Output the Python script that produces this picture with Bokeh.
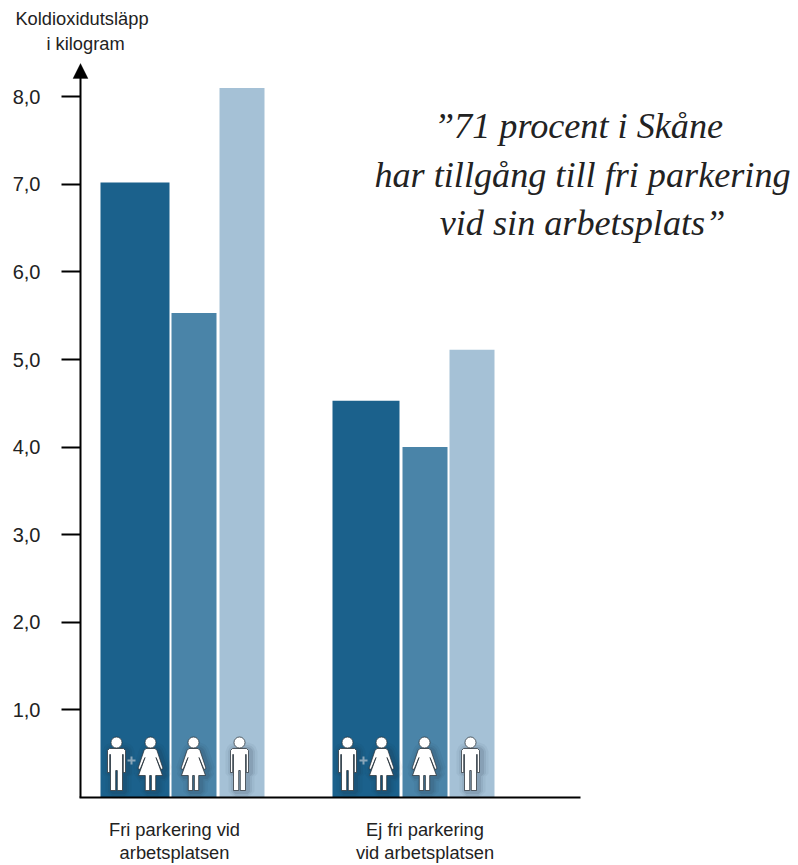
from bokeh.embed import file_html
from bokeh.models import FixedTicker, Label, PolyAnnotation, Range1d
from bokeh.plotting import figure
from bokeh.resources import INLINE

# Carbon dioxide emissions per commute, kg, by parking access at the workplace
groups = ["Fri parkering vid\narbetsplatsen", "Ej fri parkering\nvid arbetsplatsen"]
all_people = [7.02, 4.53]
women = [5.53, 4.0]
men = [8.1, 5.11]
y_ticks = [1, 2, 3, 4, 5, 6, 7, 8]
y_tick_labels = ["1,0", "2,0", "3,0", "4,0", "5,0", "6,0", "7,0", "8,0"]
y_title = "Koldioxidutsläpp\ni kilogram"
quote = ["”71 procent i Skåne", "har tillgång till fri parkering", "vid sin arbetsplats”"]

W, H = 798, 865
AXIS_X, BASE = 80, 797
UNIT = 87.6  # pixels per kilogram
SANS = "Liberation Sans"
SERIF = "Liberation Serif"


def py(pixel_y):
    return (BASE - pixel_y) / UNIT


# The plot area fills the whole canvas; both axes sit at fixed locations inside it
p = figure(
    width=W, height=H, output_backend="svg", toolbar_location=None,
    x_range=Range1d(0, W), y_range=Range1d(py(H), py(0)),
    min_border=0,
)
p.outline_line_color = None
p.grid.visible = False
p.background_fill_color = "white"
p.border_fill_color = "white"

# Bars: three per group, with the pixel layout of each cluster
bar_layout = [
    (all_people, "#1b618c", [(100, 169), (332, 399)]),
    (women, "#4a84a8", [(171, 216), (402, 447)]),
    (men, "#a5c1d6", [(219, 264), (449, 494)]),
]
for values, colour, spans in bar_layout:
    p.vbar(
        x=[(a + b) / 2 for a, b in spans],
        width=[b - a for a, b in spans],
        bottom=0, top=values, fill_color=colour, line_color=None,
    )

# Pictograms of people standing in the foot of each bar
MAN = [(-7, 11), (7, 11), (9, 13), (9, 35), (6.8, 35), (6.8, 17), (6, 17), (6, 53),
       (0.8, 53), (0.8, 33), (-0.8, 33), (-0.8, 53), (-6, 53), (-6, 17), (-6.8, 17),
       (-6.8, 35), (-9, 35), (-9, 13)]
WOMAN = [(-4.5, 11), (4.5, 11), (6.5, 13), (12.5, 31), (10.5, 32), (5.5, 20), (12, 38), (5.2, 38),
         (5.2, 53), (0.9, 53), (0.9, 38), (-0.9, 38), (-0.9, 53), (-5.2, 53), (-5.2, 38),
         (-12, 38), (-5.5, 20), (-10.5, 32), (-12.5, 31), (-6.5, 13)]
ICON_TOP = 737


def person(cx, shape):
    xs = [cx + a for a, _ in shape]
    ys = [py(ICON_TOP + b) for _, b in shape]
    hx, hy = cx, py(ICON_TOP + 5)
    # stacked translucent strokes give the soft drop shadow
    for lw, alpha in ((14, 0.05), (9, 0.07), (5, 0.10)):
        p.patch([x + 2 for x in xs], [y - 1 / UNIT for y in ys], fill_alpha=0,
                line_color="#1c2b36", line_alpha=alpha, line_width=lw)
    p.patch(xs, ys, fill_color="white", line_color="#2a3238", line_alpha=0.75, line_width=1)
    p.scatter([hx], [hy], size=11, marker="circle", fill_color="white",
              line_color="#2a3238", line_alpha=0.75, line_width=1)


for cx in (116, 239, 347, 470):
    person(cx, MAN)
for cx in (150, 193, 381, 424):
    person(cx, WOMAN)
p.scatter([131, 363], [py(760), py(760)], size=8, marker="cross",
          line_color="#8aa6b9", line_width=2)

# Value axis, running a little above 8,0 up to its arrow head
yaxis = p.yaxis[0]
yaxis.fixed_location = AXIS_X
yaxis.ticker = FixedTicker(ticks=y_ticks)
yaxis.major_label_overrides = {t: s for t, s in zip(y_ticks, y_tick_labels)}
yaxis.bounds = (0, py(72))
yaxis.axis_line_color = "black"
yaxis.axis_line_width = 2
yaxis.major_tick_line_color = "black"
yaxis.major_tick_line_width = 2
yaxis.major_tick_out = 19
yaxis.major_tick_in = 0
yaxis.minor_tick_line_color = None
yaxis.major_label_standoff = 21
yaxis.major_label_text_font = SANS
yaxis.major_label_text_font_size = "20px"
yaxis.major_label_text_color = "#222222"

# Baseline; the group names are placed below it as labels
xaxis = p.xaxis[0]
xaxis.fixed_location = 0
xaxis.ticker = FixedTicker(ticks=[])
xaxis.bounds = (AXIS_X - 1, 580)
xaxis.axis_line_color = "black"
xaxis.axis_line_width = 2
xaxis.major_tick_line_color = None
xaxis.minor_tick_line_color = None

for name, cx in zip(groups, (174, 424.5)):
    for line, y in zip(name.split("\n"), (829, 852)):
        p.add_layout(Label(
            x=cx, y=py(y), text=line, text_align="center", text_baseline="alphabetic",
            text_font=SANS, text_font_size="18.3px", text_color="#222222",
        ))

# Arrow head topping the value axis
p.add_layout(PolyAnnotation(
    xs=[72.5, AXIS_X, 87.5], ys=[py(78), py(63), py(78)],
    fill_color="black", fill_alpha=1, line_color="black",
))

# Axis caption, centred over the axis
for text, cx, y in zip(y_title.split("\n"), (81.5, 85), (18, 43)):
    p.add_layout(Label(
        x=cx, y=py(y), text=text, text_align="center", text_baseline="alphabetic",
        text_font=SANS, text_font_size="18.3px", text_color="#222222",
    ))

# Pull quote
for text, cx, y in zip(quote, (578, 582, 582), (125, 174, 222)):
    p.add_layout(Label(
        x=cx, y=py(y), text=text, text_align="center", text_baseline="alphabetic",
        text_font=SERIF, text_font_style="italic", text_font_size="36.2px",
        text_color="#222222",
    ))

open("out.html", "w").write(file_html(p, INLINE))
